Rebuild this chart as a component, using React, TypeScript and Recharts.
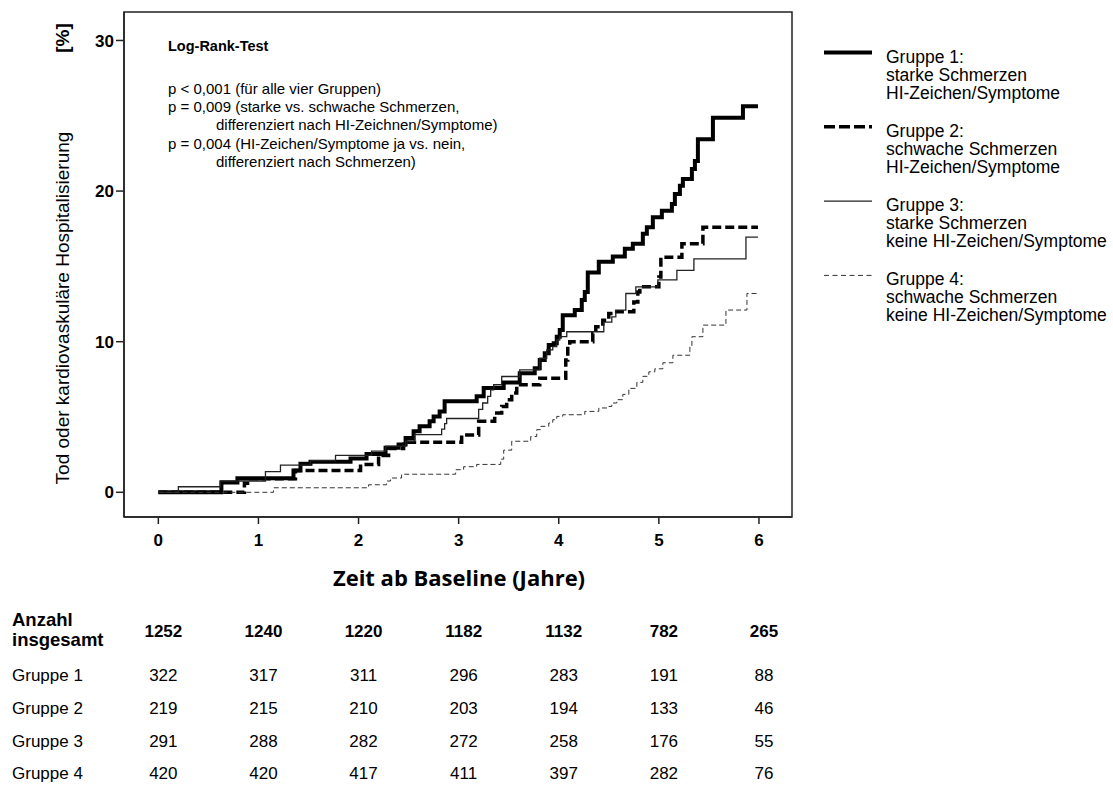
import React from 'react';
import { LineChart, Line, XAxis, YAxis, ReferenceArea } from 'recharts';

// ---------- data ----------
const xTicks = [0, 1, 2, 3, 4, 5, 6];
const yTicks = [0, 10, 20, 30];

// Kaplan-Meier step points [year, percent]
const group1: [number, number][] = [
  [0, 0], [0.63, 0.65], [0.79, 0.93], [1.35, 1.45], [1.42, 1.9], [1.52, 2.03], [1.92, 2.25], [2.08, 2.55],
  [2.27, 2.95], [2.4, 3.17], [2.47, 3.61], [2.55, 4.05], [2.61, 4.38], [2.71, 4.71], [2.75, 5.04], [2.81, 5.37],
  [2.86, 6.04], [3.18, 6.37], [3.25, 6.92], [3.45, 7.29], [3.61, 7.91], [3.76, 8.24], [3.81, 8.79], [3.86, 9.23],
  [3.9, 9.78], [3.95, 9.89], [3.98, 10.33], [4.01, 10.77], [4.04, 11.76], [4.16, 12.1], [4.23, 12.76], [4.26, 13.3],
  [4.29, 14.6], [4.4, 15.3], [4.54, 15.66], [4.66, 16.17], [4.74, 16.5], [4.84, 17.16], [4.88, 17.6], [4.94, 18.26],
  [5.03, 18.7], [5.13, 19.15], [5.16, 19.8], [5.21, 20.36], [5.24, 20.8], [5.33, 21.46], [5.36, 22.0], [5.39, 23.44],
  [5.54, 24.87], [5.84, 25.64], [5.99, 25.64],
];
const group2: [number, number][] = [
  [0, 0], [0.86, 0.6], [0.92, 0.9], [1.37, 1.45], [2.02, 1.85], [2.2, 2.45], [2.3, 2.9], [2.45, 3.33],
  [3.03, 3.8], [3.2, 4.71], [3.36, 5.27], [3.43, 5.7], [3.48, 6.15], [3.53, 6.59], [3.58, 7.03], [3.6, 7.14],
  [3.81, 7.58], [4.07, 8.79], [4.09, 9.7], [4.11, 10.0], [4.34, 10.55], [4.37, 11.0], [4.44, 11.43], [4.5, 11.87],
  [4.54, 11.98], [4.75, 12.64], [4.79, 13.3], [4.81, 13.64], [5.0, 14.3], [5.02, 15.6], [5.23, 16.5], [5.44, 17.6],
  [5.99, 17.6],
];
const group3: [number, number][] = [
  [0, 0], [0.2, 0.37], [0.62, 0.75], [1.07, 1.37], [1.22, 1.8], [1.52, 2.1], [1.77, 2.45], [2.13, 2.73],
  [2.27, 3.06], [2.47, 3.39], [2.56, 3.83], [2.83, 4.2], [2.86, 4.56], [2.88, 4.9], [3.2, 5.5], [3.24, 5.93],
  [3.29, 6.37], [3.32, 6.8], [3.35, 7.14], [3.43, 7.69], [3.61, 8.13], [3.81, 8.9], [3.88, 9.45], [3.94, 9.67],
  [3.98, 10.1], [4.01, 10.33], [4.08, 10.66], [4.45, 11.3], [4.53, 11.65], [4.57, 12.1], [4.67, 13.2], [4.77, 13.64],
  [4.99, 14.1], [5.18, 14.74], [5.35, 15.5], [5.87, 16.94], [5.99, 16.94],
];
const group4: [number, number][] = [
  [0, 0], [1.15, 0.3], [2.1, 0.5], [2.28, 0.75], [2.32, 0.95], [2.43, 1.2], [2.97, 1.5], [3.05, 1.7],
  [3.18, 1.85], [3.42, 2.2], [3.45, 2.8], [3.53, 3.39], [3.72, 3.7], [3.78, 4.16], [3.82, 4.38], [3.9, 4.6],
  [3.94, 4.82], [3.98, 5.04], [4.04, 5.15], [4.26, 5.37], [4.4, 5.6], [4.5, 5.7], [4.53, 5.93], [4.58, 6.15],
  [4.64, 6.5], [4.7, 6.9], [4.78, 7.3], [4.84, 7.7], [4.9, 8.0], [4.96, 8.2], [5.04, 8.6], [5.14, 9.1],
  [5.31, 9.67], [5.33, 10.33], [5.44, 11.1], [5.67, 12.1], [5.88, 13.2], [5.99, 13.2],
];

// numbers at risk
const riskTotal = [1252, 1240, 1220, 1182, 1132, 782, 265];
const riskG1 = [322, 317, 311, 296, 283, 191, 88];
const riskG2 = [219, 215, 210, 203, 194, 133, 46];
const riskG3 = [291, 288, 282, 272, 258, 176, 55];
const riskG4 = [420, 420, 417, 411, 397, 282, 76];
const riskLabels = ['Gruppe 1', 'Gruppe 2', 'Gruppe 3', 'Gruppe 4'];

const legendEntries = [
  { lines: ['Gruppe 1:', 'starke Schmerzen', 'HI-Zeichen/Symptome'], width: 4, dash: undefined as string | undefined, color: '#000' },
  { lines: ['Gruppe 2:', 'schwache Schmerzen', 'HI-Zeichen/Symptome'], width: 3.5, dash: '11 4', color: '#000' },
  { lines: ['Gruppe 3:', 'starke Schmerzen', 'keine HI-Zeichen/Symptome'], width: 1.3, dash: undefined, color: '#222' },
  { lines: ['Gruppe 4:', 'schwache Schmerzen', 'keine HI-Zeichen/Symptome'], width: 1, dash: '5 3.5', color: '#333' },
];

const logRankLines = [
  { text: 'p < 0,001 (für alle vier Gruppen)', indent: false },
  { text: 'p = 0,009 (starke vs. schwache Schmerzen,', indent: false },
  { text: 'differenziert nach HI-Zeichnen/Symptome)', indent: true },
  { text: 'p = 0,004 (HI-Zeichen/Symptome ja vs. nein,', indent: false },
  { text: 'differenziert nach Schmerzen)', indent: true },
];

// ---------- layout ----------
const W = 1113;
const H = 785;
const PLOT_L = 124;
const PLOT_R = 792;
const PLOT_T = 12;
const PLOT_B = 517;
const X_MIN = -0.343;
const X_MAX = 6.33;
const Y_MIN = -1.64;
const Y_MAX = 31.89;
const FONT = "'Liberation Sans', Arial, Helvetica, sans-serif";

const xPix = (t: number) => PLOT_L + ((t - X_MIN) / (X_MAX - X_MIN)) * (PLOT_R - PLOT_L);

const toRows = (pts: [number, number][]) => pts.map(([t, v]) => ({ t, v }));

export default function App() {
  const series = [
    { data: toRows(group1), width: 4, dash: undefined as string | undefined, color: '#000', name: 'Gruppe 1' },
    { data: toRows(group2), width: 3.5, dash: '9 4', color: '#000', name: 'Gruppe 2' },
    { data: toRows(group3), width: 1.3, dash: undefined, color: '#222', name: 'Gruppe 3' },
    { data: toRows(group4), width: 1, dash: '5 3', color: '#333', name: 'Gruppe 4' },
  ];
  const riskRows = [riskG1, riskG2, riskG3, riskG4];
  const rowY = [681, 714, 747, 779];

  return (
    <div style={{ position: 'absolute', left: 0, top: 0, width: W, height: H, background: '#fff' }}>
      <LineChart
        width={W}
        height={H}
        margin={{ top: PLOT_T, right: W - PLOT_R, bottom: H - PLOT_B - 30, left: PLOT_L - 40 }}
      >
        <XAxis
          type="number"
          dataKey="t"
          domain={[X_MIN, X_MAX]}
          ticks={xTicks}
          allowDataOverflow
          height={30}
          tickSize={7}
          tickMargin={10}
          axisLine={{ stroke: '#222', strokeWidth: 1.5 }}
          tickLine={{ stroke: '#222', strokeWidth: 1.5 }}
          tick={{ fill: '#000', fontSize: 17, fontWeight: 700, fontFamily: FONT }}
        />
        <YAxis
          type="number"
          domain={[Y_MIN, Y_MAX]}
          ticks={yTicks}
          allowDataOverflow
          width={40}
          tickSize={8}
          tickMargin={2}
          axisLine={{ stroke: '#222', strokeWidth: 1.5 }}
          tickLine={{ stroke: '#222', strokeWidth: 1.5 }}
          tick={{ fill: '#000', fontSize: 17, fontWeight: 700, fontFamily: FONT }}
        />
        <ReferenceArea
          x1={X_MIN}
          x2={X_MAX}
          y1={Y_MIN}
          y2={Y_MAX}
          fill="none"
          fillOpacity={0}
          stroke="#222"
          strokeWidth={1.5}
          ifOverflow="visible"
        />
        {series.map((s) => (
          <Line
            key={s.name}
            name={s.name}
            data={s.data}
            dataKey="v"
            type="stepAfter"
            stroke={s.color}
            strokeWidth={s.width}
            strokeDasharray={s.dash}
            dot={false}
            activeDot={false}
            isAnimationActive={false}
          />
        ))}
      </LineChart>

      <svg
        width={W}
        height={H}
        style={{ position: 'absolute', left: 0, top: 0, pointerEvents: 'none' }}
        fontFamily={FONT}
      >
        {/* y-axis title */}
        <text x={0} y={0} transform="translate(69,38) rotate(-90)" textAnchor="middle" fontSize={19} fontWeight={700} fill="#000">
          [%]
        </text>
        <text x={0} y={0} transform="translate(69,308) rotate(-90)" textAnchor="middle" fontSize={19} fill="#000">
          Tod oder kardiovaskuläre Hospitalisierung
        </text>

        {/* annotation inside plot */}
        <text x={168} y={51} fontSize={14.5} fontWeight={700} fill="#000">Log-Rank-Test</text>
        {logRankLines.map((l, i) => (
          <text key={i} x={l.indent ? 216 : 168} y={94 + i * 18.2} fontSize={15} fill="#000">
            {l.text}
          </text>
        ))}

        {/* legend */}
        {legendEntries.map((e, i) => {
          const top = 52.5 + i * 74.3;
          return (
            <g key={i}>
              <line x1={824} x2={872} y1={top} y2={top} stroke={e.color} strokeWidth={e.width} strokeDasharray={e.dash} />
              {e.lines.map((ln, j) => (
                <text key={j} x={886} y={top + 10 + j * 18} fontSize={17.5} fill="#000">
                  {ln}
                </text>
              ))}
            </g>
          );
        })}

        {/* x-axis title */}
        <text x={459} y={586} textAnchor="middle" fontSize={22} fontWeight={700} fontFamily="'Open Sans', Lato, sans-serif" fill="#000">
          Zeit ab Baseline (Jahre)
        </text>

        {/* numbers at risk table */}
        <text x={12} y={626} fontSize={18.5} fontWeight={700} fill="#000">Anzahl</text>
        <text x={12} y={646} fontSize={18.5} fontWeight={700} fill="#000">insgesamt</text>
        {riskTotal.map((n, i) => (
          <text key={i} x={xPix(xTicks[i]) + 5} y={637} textAnchor="middle" fontSize={17} fontWeight={700} fill="#000">
            {n}
          </text>
        ))}
        {riskRows.map((row, r) => (
          <g key={r}>
            <text x={12} y={rowY[r]} fontSize={17} fill="#000">{riskLabels[r]}</text>
            {row.map((n, i) => (
              <text key={i} x={xPix(xTicks[i]) + 5} y={rowY[r]} textAnchor="middle" fontSize={17} fill="#000">
                {n}
              </text>
            ))}
          </g>
        ))}
      </svg>
    </div>
  );
}
